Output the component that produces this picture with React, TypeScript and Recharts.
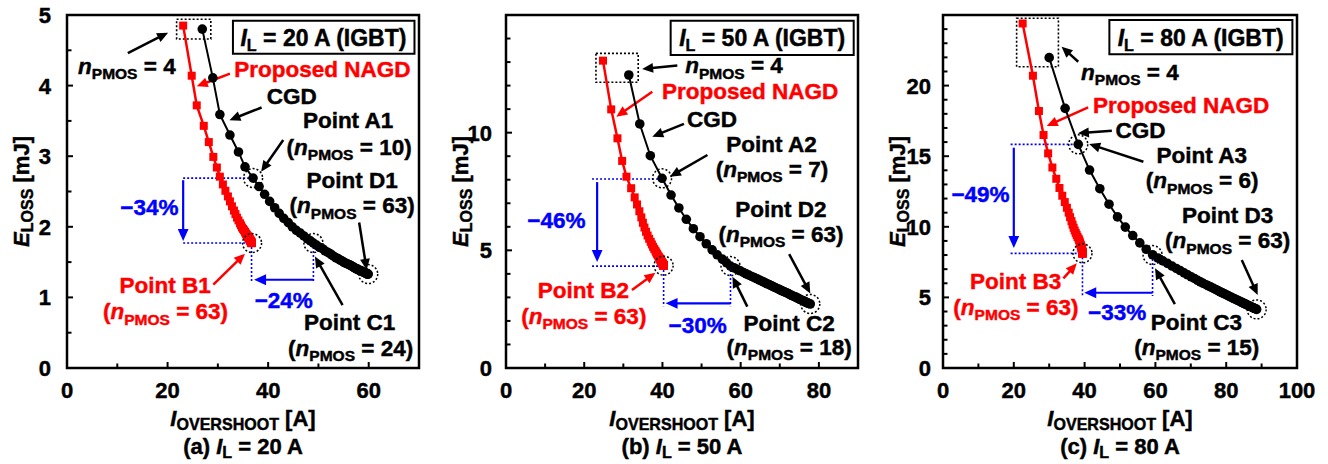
import React from "react";
import {
  ScatterChart,
  Scatter,
  XAxis,
  YAxis,
  ReferenceLine,
  ReferenceDot,
  ReferenceArea,
} from "recharts";

const FONT = '"Liberation Sans", Arial, Helvetica, sans-serif';
const BLACK = "#000000";
const RED = "#ff0000";
const BLUE = "#0000ff";

// ---- axis ticks ----
const xTicksA = [0, 10, 20, 30, 40, 50, 60, 70];
const xLabelsA = [0, 20, 40, 60];
const yTicksA = [0, 0.5, 1, 1.5, 2, 2.5, 3, 3.5, 4, 4.5, 5];
const yLabelsA = [0, 1, 2, 3, 4, 5];

const xTicksB = [0, 10, 20, 30, 40, 50, 60, 70, 80, 90];
const xLabelsB = [0, 20, 40, 60, 80];
const yTicksB = [0, 1, 2, 3, 4, 5, 6, 7, 8, 9, 10, 11, 12, 13, 14, 15];
const yLabelsB = [0, 5, 10];

const xTicksC = [0, 10, 20, 30, 40, 50, 60, 70, 80, 90, 100];
const xLabelsC = [0, 20, 40, 60, 80, 100];
const yTicksC = [0, 1, 2, 3, 4, 5, 6, 7, 8, 9, 10, 11, 12, 13, 14, 15, 16, 17, 18, 19, 20, 21, 22, 23, 24, 25];
const yLabelsC = [0, 5, 10, 15, 20];

// ---- I_L = 20 A, n_PMOS = 4 ... 63 ----
const cgd20Overshoot = [
  26.9, 29.0, 30.4, 32.4, 34.1, 35.4, 37.0, 38.2, 39.3, 40.3, 41.3, 42.2, 43.1, 44.0, 44.8, 45.6,
  46.4, 47.1, 47.8, 48.4, 49.0, 49.6, 50.2, 50.8, 51.3, 51.8, 52.3, 52.7, 53.1, 53.5, 53.9, 54.3,
  54.6, 55.0, 55.3, 55.6, 55.9, 56.2, 56.5, 56.7, 57.0, 57.2, 57.4, 57.6, 57.8, 58.0, 58.2, 58.4,
  58.6, 58.7, 58.9, 59.0, 59.2, 59.3, 59.4, 59.5, 59.6, 59.7, 59.8, 59.9,
];
const cgd20Loss = [
  4.8, 4.11, 3.59, 3.3, 3.06, 2.85, 2.69, 2.57, 2.46, 2.36, 2.27, 2.19, 2.12, 2.06, 2.0, 1.95,
  1.91, 1.87, 1.83, 1.8, 1.77, 1.74, 1.71, 1.69, 1.66, 1.64, 1.62, 1.6, 1.58, 1.56, 1.55, 1.53,
  1.52, 1.5, 1.49, 1.48, 1.47, 1.46, 1.45, 1.44, 1.43, 1.42, 1.41, 1.4, 1.4, 1.39, 1.38, 1.38,
  1.37, 1.37, 1.36, 1.36, 1.35, 1.35, 1.34, 1.34, 1.34, 1.33, 1.33, 1.33,
];
const nagd20Overshoot = [
  23.1, 24.8, 25.8, 27.2, 28.2, 29.1, 29.8, 30.4, 31.0, 31.5, 32.0, 32.4, 32.8, 33.2, 33.5, 33.8,
  34.1, 34.4, 34.6, 34.8, 35.0, 35.2, 35.4, 35.5, 35.6, 35.7, 35.8, 35.9, 36.0, 36.05, 36.1, 36.15,
  36.2, 36.25, 36.3, 36.33, 36.36, 36.4, 36.43, 36.46, 36.49, 36.52, 36.54, 36.56, 36.58, 36.6, 36.61, 36.62,
  36.63, 36.64, 36.65, 36.66, 36.67, 36.68, 36.69, 36.7, 36.7, 36.7, 36.7, 36.7,
];
const nagd20Loss = [
  4.85, 4.14, 3.72, 3.43, 3.2, 2.99, 2.84, 2.71, 2.6, 2.51, 2.43, 2.36, 2.29, 2.23, 2.18, 2.13,
  2.09, 2.05, 2.02, 1.99, 1.97, 1.95, 1.93, 1.91, 1.9, 1.89, 1.88, 1.87, 1.86, 1.85, 1.85, 1.84,
  1.84, 1.83, 1.83, 1.82, 1.82, 1.81, 1.81, 1.81, 1.8, 1.8, 1.8, 1.79, 1.79, 1.79, 1.79, 1.78,
  1.78, 1.78, 1.78, 1.78, 1.78, 1.77, 1.77, 1.77, 1.77, 1.77, 1.77, 1.77,
];

// ---- I_L = 50 A ----
const cgd50Overshoot = [
  31.4, 34.2, 36.9, 39.9, 42.2, 44.2, 46.1, 47.9, 49.6, 51.2, 52.7, 54.0, 55.3, 56.4, 57.4, 58.3,
  59.1, 59.9, 60.7, 61.4, 62.1, 62.8, 63.5, 64.2, 64.8, 65.3, 65.8, 66.3, 66.8, 67.3, 67.8, 68.3,
  68.8, 69.3, 69.8, 70.2, 70.6, 71.0, 71.4, 71.8, 72.2, 72.6, 73.0, 73.4, 73.8, 74.1, 74.4, 74.7,
  75.0, 75.3, 75.6, 75.9, 76.2, 76.4, 76.6, 76.8, 77.0, 77.2, 77.5, 77.8,
];
const cgd50Loss = [
  12.45, 10.37, 9.02, 8.06, 7.35, 6.8, 6.32, 5.92, 5.58, 5.28, 5.02, 4.81, 4.63, 4.47, 4.33, 4.26,
  4.19, 4.13, 4.06, 4.0, 3.95, 3.89, 3.84, 3.79, 3.74, 3.7, 3.66, 3.62, 3.58, 3.54, 3.5, 3.46,
  3.42, 3.38, 3.34, 3.31, 3.28, 3.25, 3.22, 3.19, 3.16, 3.12, 3.09, 3.06, 3.03, 3.01, 2.98, 2.96,
  2.93, 2.91, 2.88, 2.86, 2.84, 2.82, 2.8, 2.79, 2.77, 2.76, 2.74, 2.72,
];
const nagd50Overshoot = [
  24.8, 26.9, 28.5, 29.7, 30.8, 32.0, 32.9, 33.5, 34.1, 34.6, 35.0, 35.4, 35.8, 36.2, 36.6, 37.0,
  37.3, 37.6, 37.9, 38.2, 38.4, 38.6, 38.8, 39.0, 39.15, 39.3, 39.4, 39.5, 39.6, 39.7, 39.75, 39.8,
  39.85, 39.9, 39.95, 40.0, 40.03, 40.06, 40.09, 40.12, 40.14, 40.16, 40.18, 40.2, 40.21, 40.22, 40.23, 40.24,
  40.25, 40.26, 40.27, 40.27, 40.28, 40.28, 40.29, 40.29, 40.3, 40.3, 40.3, 40.3,
];
const nagd50Loss = [
  13.06, 10.99, 9.76, 8.8, 8.13, 7.64, 7.25, 6.95, 6.66, 6.4, 6.17, 5.97, 5.79, 5.63, 5.49, 5.36,
  5.25, 5.15, 5.06, 4.98, 4.91, 4.85, 4.79, 4.74, 4.7, 4.66, 4.62, 4.59, 4.56, 4.54, 4.52, 4.5,
  4.48, 4.47, 4.46, 4.45, 4.44, 4.43, 4.42, 4.41, 4.4, 4.4, 4.39, 4.39, 4.38, 4.38, 4.38, 4.37,
  4.37, 4.37, 4.36, 4.36, 4.36, 4.36, 4.35, 4.35, 4.35, 4.35, 4.35, 4.35,
];

// ---- I_L = 80 A ----
const cgd80Overshoot = [
  30.0, 34.5, 38.2, 41.4, 44.3, 46.9, 49.3, 51.5, 53.6, 55.6, 57.4, 59.2, 60.7, 62.1, 63.4, 64.7,
  65.9, 67.0, 68.1, 69.1, 70.1, 71.0, 71.9, 72.7, 73.5, 74.3, 75.0, 75.7, 76.4, 77.1, 77.7, 78.3,
  78.9, 79.5, 80.0, 80.5, 81.0, 81.5, 82.0, 82.4, 82.8, 83.2, 83.6, 84.0, 84.4, 84.7, 85.0, 85.3,
  85.6, 85.9, 86.2, 86.5, 86.8, 87.1, 87.4, 87.7, 87.9, 88.1, 88.4, 88.6,
];
const cgd80Loss = [
  21.98, 18.39, 15.84, 14.02, 12.7, 11.6, 10.7, 9.98, 9.38, 8.86, 8.41, 8.02, 7.79, 7.59, 7.41, 7.22,
  7.05, 6.9, 6.74, 6.6, 6.46, 6.34, 6.21, 6.1, 6.0, 5.9, 5.81, 5.73, 5.64, 5.55, 5.48, 5.4,
  5.33, 5.25, 5.19, 5.13, 5.06, 5.0, 4.94, 4.89, 4.84, 4.8, 4.75, 4.7, 4.65, 4.61, 4.58, 4.54,
  4.51, 4.47, 4.43, 4.4, 4.36, 4.33, 4.29, 4.26, 4.23, 4.21, 4.18, 4.15,
];
const nagd80Overshoot = [
  22.5, 25.4, 27.1, 28.4, 29.7, 30.9, 32.0, 32.9, 33.7, 34.4, 35.0, 35.5, 35.9, 36.3, 36.6, 36.9,
  37.2, 37.5, 37.75, 38.0, 38.3, 38.45, 38.6, 38.7, 38.8, 38.9, 39.0, 39.05, 39.1, 39.15, 39.2, 39.22,
  39.25, 39.27, 39.3, 39.31, 39.32, 39.33, 39.34, 39.35, 39.36, 39.36, 39.37, 39.37, 39.38, 39.38, 39.38, 39.39,
  39.39, 39.39, 39.4, 39.4, 39.4, 39.4, 39.4, 39.4, 39.4, 39.4, 39.4, 39.4,
];
const nagd80Loss = [
  24.4, 20.7, 18.2, 16.5, 15.2, 14.2, 13.4, 12.75, 12.2, 11.75, 11.35, 11.0, 10.68, 10.4, 10.15, 9.93,
  9.74, 9.57, 9.42, 9.28, 9.16, 9.05, 8.95, 8.86, 8.78, 8.71, 8.65, 8.59, 8.54, 8.49, 8.45, 8.41,
  8.38, 8.35, 8.32, 8.29, 8.27, 8.25, 8.23, 8.21, 8.2, 8.19, 8.18, 8.17, 8.16, 8.16, 8.15, 8.15,
  8.14, 8.14, 8.14, 8.13, 8.13, 8.13, 8.13, 8.12, 8.12, 8.12, 8.12, 8.12,
];

type Part = [string, "n" | "i" | "s"];
type Pt = [number, number];
interface Note { at: Pt; color: string; parts: Part[] }
interface Arrow { from: Pt; to: Pt; color: string }

const npmos = (v: string, paren: boolean): Part[] =>
  paren
    ? [["(", "n"], ["n", "i"], ["PMOS", "s"], [` = ${v})`, "n"]]
    : [["n", "i"], ["PMOS", "s"], [` = ${v}`, "n"]];
const word = (s: string): Part[] => [[s, "n"]];
const ilText = (v: string, pre = ""): Part[] => [[pre, "n"], ["I", "i"], ["L", "s"], [` = ${v} A`, "n"]];

// text with italic / subscript runs; a thin outline makes it as heavy as the original
function RichText({ x, y, parts, color, size = 22.5, sub = 0.69, drop = 0.24 }: any) {
  let low = false;
  return (
    <text x={x} y={y} fill={color} stroke={color} strokeWidth={0.45} fontFamily={FONT} fontWeight="bold"
      fontSize={size} textAnchor="middle" style={{ whiteSpace: "pre" }}>
      {parts.filter((p: Part) => p[0] !== "").map(([t, k]: Part, i: number) => {
        let dy = 0;
        if (k === "s" && !low) { dy = size * drop; low = true; }
        else if (k !== "s" && low) { dy = -size * drop; low = false; }
        return (
          <tspan key={i} dy={dy} fontSize={k === "s" ? size * sub : size}
            fontStyle={k === "i" ? "italic" : "normal"}>{t}</tspan>
        );
      })}
    </text>
  );
}

const arrowShape = (color: string, w: number, head: number) => (p: any) => {
  const { x1, y1, x2, y2 } = p;
  const dx = x2 - x1, dy = y2 - y1;
  const len = Math.hypot(dx, dy) || 1;
  const ux = dx / len, uy = dy / len;
  const bx = x2 - ux * head, by = y2 - uy * head;
  const px = -uy * head * 0.45, py = ux * head * 0.45;
  return (
    <g>
      <line x1={x1} y1={y1} x2={bx + ux} y2={by + uy} stroke={color} strokeWidth={w} />
      <polygon points={`${x2},${y2} ${bx + px},${by + py} ${bx - px},${by - py}`} fill={color} />
    </g>
  );
};

const zip = (xs: number[], ys: number[]) =>
  xs.slice(0, Math.min(xs.length, ys.length)).map((x, i) => ({ x, y: ys[i] }));

const panels = [
  {
    left: 0, width: 440, yAxisWidth: 67, marginRight: 21, labelGap: 16,
    xMax: 70, yMax: 5, xTicks: xTicksA, xLabels: xLabelsA, yTicks: yTicksA, yLabels: yLabelsA,
    cgd: zip(cgd20Overshoot, cgd20Loss), nagd: zip(nagd20Overshoot, nagd20Loss),
    caption: ilText("20", "(a) "), title: "20",
    titleBox: [33.0, 69.1, 4.45, 4.92], titleAt: [51.0, 4.56] as Pt,
    startBox: [21.8, 28.6, 4.66, 4.94],
    circles: [[37.0, 2.69], [36.8, 1.77], [49.0, 1.77], [59.9, 1.33]] as Pt[],
    notes: [
      { at: [11.9, 4.17], color: BLACK, parts: npmos("4", false) },
      { at: [50.8, 4.12], color: RED, parts: word("Proposed NAGD") },
      { at: [44.7, 3.74], color: BLACK, parts: word("CGD") },
      { at: [55.9, 3.4], color: BLACK, parts: word("Point A1") },
      { at: [56.1, 3.02], color: BLACK, parts: npmos("10", true) },
      { at: [56.7, 2.55], color: BLACK, parts: word("Point D1") },
      { at: [56.7, 2.19], color: BLACK, parts: npmos("63", true) },
      { at: [56.2, 0.54], color: BLACK, parts: word("Point C1") },
      { at: [56.4, 0.17], color: BLACK, parts: npmos("24", true) },
      { at: [19.5, 1.06], color: RED, parts: word("Point B1") },
      { at: [19.6, 0.69], color: RED, parts: npmos("63", true) },
      { at: [16.4, 2.17], color: BLUE, parts: word("\u221234%") },
      { at: [43.1, 0.85], color: BLUE, parts: word("\u221224%") },
    ] as Note[],
    arrows: [
      { from: [12.1, 4.46], to: [20.1, 4.75], color: BLACK },
      { from: [32.4, 4.17], to: [25.8, 3.99], color: RED },
      { from: [38.7, 3.69], to: [32.3, 3.51], color: BLACK },
      { from: [43.0, 3.23], to: [38.6, 2.78], color: BLACK },
      { from: [58.1, 2.06], to: [59.6, 1.39], color: BLACK },
      { from: [54.8, 0.89], to: [49.3, 1.58], color: BLACK },
      { from: [29.1, 1.18], to: [35.4, 1.62], color: RED },
      { from: [23.1, 2.66], to: [23.1, 1.8], color: BLUE },
      { from: [49.0, 1.25], to: [37.2, 1.25], color: BLUE },
    ] as Arrow[],
    guides: [
      [[23.1, 2.69], [37.0, 2.69]],
      [[23.1, 1.77], [36.7, 1.77]],
      [[36.7, 1.77], [36.7, 1.21]],
      [[49.0, 1.77], [49.0, 1.21]],
    ] as Pt[][],
  },
  {
    left: 440, width: 440, yAxisWidth: 66, marginRight: 22, labelGap: 14,
    xMax: 90, yMax: 15, xTicks: xTicksB, xLabels: xLabelsB, yTicks: yTicksB, yLabels: yLabelsB,
    cgd: zip(cgd50Overshoot, cgd50Loss), nagd: zip(nagd50Overshoot, nagd50Loss),
    caption: ilText("50", "(b) "), title: "50",
    titleBox: [42.1, 88.9, 13.3, 14.76], titleAt: [65.5, 13.68] as Pt,
    startBox: [23.0, 33.8, 12.14, 13.37],
    circles: [[39.9, 8.06], [40.3, 4.35], [57.4, 4.33], [77.8, 2.72]] as Pt[],
    notes: [
      { at: [58.3, 12.52], color: BLACK, parts: npmos("4", false) },
      { at: [62.4, 11.42], color: RED, parts: word("Proposed NAGD") },
      { at: [52.7, 10.23], color: BLACK, parts: word("CGD") },
      { at: [67.9, 9.19], color: BLACK, parts: word("Point A2") },
      { at: [68.0, 8.13], color: BLACK, parts: npmos("7", true) },
      { at: [70.3, 6.4], color: BLACK, parts: word("Point D2") },
      { at: [70.3, 5.37], color: BLACK, parts: npmos("63", true) },
      { at: [72.4, 1.59], color: BLACK, parts: word("Point C2") },
      { at: [72.4, 0.55], color: BLACK, parts: npmos("18", true) },
      { at: [19.8, 2.96], color: RED, parts: word("Point B2") },
      { at: [19.9, 1.87], color: RED, parts: npmos("63", true) },
      { at: [12.9, 5.94], color: BLUE, parts: word("\u221246%") },
      { at: [49.0, 1.5], color: BLUE, parts: word("\u221230%") },
    ] as Note[],
    arrows: [
      { from: [43.8, 12.85], to: [34.8, 12.71], color: BLACK },
      { from: [37.4, 11.74], to: [28.2, 10.68], color: RED },
      { from: [45.5, 10.37], to: [37.4, 9.83], color: BLACK },
      { from: [51.5, 9.05], to: [41.9, 8.13], color: BLACK },
      { from: [72.4, 4.84], to: [77.8, 3.17], color: BLACK },
      { from: [61.7, 2.61], to: [57.9, 3.88], color: BLACK },
      { from: [32.2, 3.31], to: [38.2, 4.05], color: RED },
      { from: [23.3, 7.9], to: [23.3, 4.5], color: BLUE },
      { from: [57.4, 2.75], to: [40.8, 2.75], color: BLUE },
    ] as Arrow[],
    guides: [
      [[22.0, 8.03], [39.9, 8.03]],
      [[22.0, 4.33], [40.3, 4.33]],
      [[40.3, 4.33], [40.3, 2.62]],
      [[57.4, 4.33], [57.4, 2.62]],
    ] as Pt[][],
  },
  {
    left: 880, width: 448, yAxisWidth: 63, marginRight: 31, labelGap: 12,
    xMax: 100, yMax: 25, xTicks: xTicksC, xLabels: xLabelsC, yTicks: yTicksC, yLabels: yLabelsC,
    cgd: zip(cgd80Overshoot, cgd80Loss), nagd: zip(nagd80Overshoot, nagd80Loss),
    caption: ilText("80", "(c) "), title: "80",
    titleBox: [47.0, 98.7, 22.22, 24.65], titleAt: [72.8, 22.8] as Pt,
    startBox: [20.8, 32.6, 21.34, 24.77],
    circles: [[38.2, 15.84], [39.4, 8.12], [59.2, 8.0], [88.6, 4.15]] as Pt[],
    notes: [
      { at: [52.8, 20.4], color: BLACK, parts: npmos("4", false) },
      { at: [67.3, 18.08], color: RED, parts: word("Proposed NAGD") },
      { at: [55.8, 16.27], color: BLACK, parts: word("CGD") },
      { at: [73.1, 14.5], color: BLACK, parts: word("Point A3") },
      { at: [73.2, 12.73], color: BLACK, parts: npmos("6", true) },
      { at: [80.4, 10.25], color: BLACK, parts: word("Point D3") },
      { at: [80.4, 8.48], color: BLACK, parts: npmos("63", true) },
      { at: [71.6, 2.69], color: BLACK, parts: word("Point C3") },
      { at: [71.7, 0.92], color: BLACK, parts: npmos("15", true) },
      { at: [20.5, 5.57], color: RED, parts: word("Point B3") },
      { at: [20.6, 3.75], color: RED, parts: npmos("63", true) },
      { at: [10.6, 11.78], color: BLUE, parts: word("\u221249%") },
      { at: [49.2, 3.4], color: BLUE, parts: word("\u221233%") },
    ] as Note[],
    arrows: [
      { from: [38.2, 21.69], to: [33.5, 22.76], color: BLACK },
      { from: [41.0, 18.46], to: [29.3, 17.14], color: RED },
      { from: [47.7, 16.81], to: [38.1, 16.62], color: BLACK },
      { from: [56.6, 14.61], to: [41.3, 15.86], color: BLACK },
      { from: [84.4, 7.65], to: [88.9, 5.17], color: BLACK },
      { from: [65.5, 4.53], to: [59.9, 7.06], color: BLACK },
      { from: [34.0, 6.35], to: [37.8, 7.41], color: RED },
      { from: [20.0, 15.6], to: [20.0, 8.5], color: BLUE },
      { from: [59.2, 5.33], to: [39.9, 5.33], color: BLUE },
    ] as Arrow[],
    guides: [
      [[19.1, 15.84], [38.2, 15.84]],
      [[19.1, 8.12], [39.4, 8.12]],
      [[39.4, 8.12], [39.4, 5.1]],
      [[59.2, 8.0], [59.2, 5.1]],
    ] as Pt[][],
  },
];

const circleShape = (p: any) => <circle cx={p.cx} cy={p.cy} r={4.8} fill={BLACK} />;
const squareShape = (p: any) => <rect x={p.cx - 4} y={p.cy - 4} width={8} height={8} fill={RED} />;

function Panel({ spec }: { spec: (typeof panels)[number] }) {
  const s = spec;
  const tickText = { fontFamily: FONT, fontWeight: "bold", fontSize: 22, fill: BLACK, stroke: BLACK, strokeWidth: 0.45 };
  const xTick = (p: any) => {
    const v = p.payload.value;
    const major = s.xLabels.includes(v);
    return (
      <g>
        <line x1={p.x} x2={p.x} y1={p.y} y2={p.y - (major ? 6 : 4.5)} stroke={BLACK} strokeWidth={2} />
        {major && (
          <text x={p.x} y={p.y + 30} textAnchor="middle" {...tickText}>
            {v}
          </text>
        )}
      </g>
    );
  };
  const yTick = (p: any) => {
    const v = p.payload.value;
    const major = s.yLabels.includes(v);
    return (
      <g>
        <line x1={p.x} x2={p.x + (major ? 6 : 4.5)} y1={p.y} y2={p.y} stroke={BLACK} strokeWidth={2} />
        {major && (
          <text x={p.x - s.labelGap} y={p.y + 8} textAnchor="end" {...tickText}>
            {v}
          </text>
        )}
      </g>
    );
  };
  const xTitle = (p: any) => {
    const vb = p.viewBox;
    const cx = vb.x + vb.width / 2;
    return (
      <g>
        <RichText x={cx} y={vb.y + 58} color={BLACK} size={22} sub={0.73} drop={0.2}
          parts={[["I", "i"], ["OVERSHOOT", "s"], [" [A]", "n"]]} />
        <RichText x={cx} y={vb.y + 86} color={BLACK} size={22} sub={0.73} drop={0.2} parts={s.caption} />
      </g>
    );
  };
  const yTitle = (p: any) => {
    const vb = p.viewBox;
    const bx = vb.x + vb.width - 38;
    const cy = vb.y + vb.height / 2;
    return (
      <g transform={`rotate(-90 ${bx} ${cy})`}>
        <RichText x={bx} y={cy} color={BLACK} size={22} sub={0.73} drop={0.2}
          parts={[["E", "i"], ["LOSS", "s"], [" [mJ]", "n"]]} />
      </g>
    );
  };

  return (
    <div style={{ position: "absolute", left: s.left, top: 0, width: s.width, height: 464 }}>
      <ScatterChart width={s.width} height={464} margin={{ top: 15, right: s.marginRight, bottom: 0, left: 0 }}>
        <XAxis type="number" dataKey="x" domain={[0, s.xMax]} ticks={s.xTicks} interval={0}
          axisLine={false} tickLine={false} tickSize={0} tickMargin={0} height={96}
          tick={xTick} label={xTitle} />
        <YAxis type="number" dataKey="y" domain={[0, s.yMax]} ticks={s.yTicks} interval={0}
          axisLine={false} tickLine={false} tickSize={0} tickMargin={0} width={s.yAxisWidth}
          tick={yTick} label={yTitle} />

        <ReferenceArea x1={0} x2={s.xMax} y1={0} y2={s.yMax} fill="none" fillOpacity={0}
          stroke={BLACK} strokeWidth={2.5} ifOverflow="visible" />
        <ReferenceArea x1={s.titleBox[0]} x2={s.titleBox[1]} y1={s.titleBox[2]} y2={s.titleBox[3]}
          fill="none" fillOpacity={0} stroke={BLACK} strokeWidth={2} ifOverflow="visible" />
        <ReferenceArea x1={s.startBox[0]} x2={s.startBox[1]} y1={s.startBox[2]} y2={s.startBox[3]}
          fill="none" fillOpacity={0} stroke={BLACK} strokeWidth={1.6} strokeDasharray="2 2" ifOverflow="visible" />

        {s.guides.map((g, i) => (
          <ReferenceLine key={`g${i}`} segment={[{ x: g[0][0], y: g[0][1] }, { x: g[1][0], y: g[1][1] }]}
            stroke={BLUE} strokeWidth={1.6} strokeDasharray="2 2" ifOverflow="visible" />
        ))}

        <Scatter data={s.cgd} fill={BLACK} shape={circleShape} line={{ stroke: BLACK, strokeWidth: 2 }}
          lineType="joint" isAnimationActive={false} />
        <Scatter data={s.nagd} fill={RED} shape={squareShape} line={{ stroke: RED, strokeWidth: 2.5 }}
          lineType="joint" isAnimationActive={false} />

        {s.circles.map((c, i) => (
          <ReferenceDot key={`c${i}`} x={c[0]} y={c[1]} r={9.5} fill="none" stroke={BLACK}
            strokeWidth={1.5} strokeDasharray="2 2" ifOverflow="visible" />
        ))}

        {s.arrows.map((a, i) => (
          <ReferenceLine key={`a${i}`} segment={[{ x: a.from[0], y: a.from[1] }, { x: a.to[0], y: a.to[1] }]}
            ifOverflow="visible"
            shape={arrowShape(a.color, a.color === BLUE ? 2.2 : 2.5, a.color === BLUE ? 12 : 11)} />
        ))}

        <ReferenceDot x={s.titleAt[0]} y={s.titleAt[1]} r={0} ifOverflow="visible"
          shape={(p: any) => (
            <RichText x={p.cx} y={p.cy} color={BLACK} size={23} sub={0.7} drop={0.22}
              parts={[["I", "i"], ["L", "s"], [` = ${s.title} A (IGBT)`, "n"]]} />
          )} />
        {s.notes.map((n, i) => (
          <ReferenceDot key={`n${i}`} x={n.at[0]} y={n.at[1]} r={0} ifOverflow="visible"
            shape={(p: any) => <RichText x={p.cx} y={p.cy} color={n.color} parts={n.parts} />} />
        ))}
      </ScatterChart>
    </div>
  );
}

export default function App() {
  return (
    <div style={{ position: "absolute", left: 0, top: 0, width: 1328, height: 464, background: "#fff" }}>
      {panels.map((p, i) => (
        <Panel key={i} spec={p} />
      ))}
    </div>
  );
}
